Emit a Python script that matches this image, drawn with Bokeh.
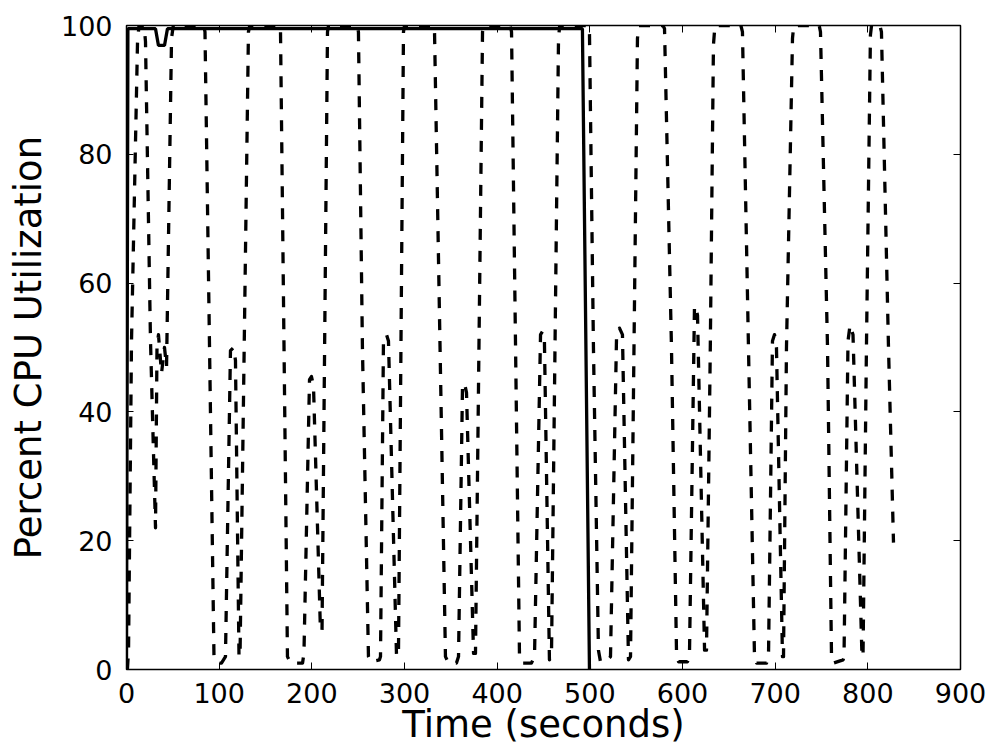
from bokeh.plotting import figure
from bokeh.models import FixedTicker, LinearAxis, Range1d
from bokeh.embed import file_html
from bokeh.resources import INLINE

# ---- data ----
solid_time = [0.0, 1.5, 31.3, 34.5, 41.0, 44.2, 492.0, 499.6]
solid_cpu = [0.0, 99.5, 99.5, 96.9, 96.9, 99.5, 99.5, 0.0]

dashed_time = [
    1.0, 2.2, 5.4, 11.9, 13.5, 19.0, 20.5, 25.9, 31.3, 32.9, 34.5, 37.8, 41.0, 43.2, 48.6, 50.5,
    83.5, 84.7, 94.4, 98.2, 102.5, 106.8, 112.2, 115.5, 117.6, 121.4, 122.5, 131.6, 133.0,
    165.0, 166.2, 173.7, 177.0, 190.0, 191.5, 197.5, 199.6, 201.8, 209.3, 211.0, 216.9, 218.0,
    249.0, 250.3, 254.6, 261.1, 263.3, 273.0, 274.1, 277.3, 280.6, 282.7, 291.4, 293.5, 298.9, 300.0,
    331.0, 332.4, 344.2, 347.5, 356.1, 358.3, 362.6, 364.7, 366.9, 374.5, 376.6, 384.2, 385.5,
    414.0, 415.5, 424.1, 427.3, 437.0, 440.3, 446.8, 448.9, 451.0, 456.4, 458.6, 466.2, 467.5,
    498.0, 499.6, 503.9, 509.3, 511.5, 519.1, 522.3, 528.8, 532.0, 535.2, 541.7, 543.9, 551.4, 553.0,
    579.0, 580.6, 588.1, 593.5, 595.7, 605.4, 607.5, 612.9, 614.0, 616.2, 623.8, 625.9, 630.0, 633.4, 635.0,
    663.0, 664.7, 671.2, 677.7, 679.9, 690.7, 692.8, 697.1, 699.3, 701.4, 707.9, 709.0, 712.2, 718.7, 720.0,
    747.5, 748.9, 756.5, 760.8, 762.9, 773.3, 774.3, 778.6, 780.8, 784.0, 793.7, 794.8, 798.5, 802.8, 804.0,
    813.0, 814.7, 822.3, 827.7,
]
dashed_cpu = [
    0, 3, 51, 97.5, 100, 100, 97.5, 51, 22, 50, 52, 46, 50, 47, 98, 100,
    100, 99, 2, 1, 1, 2, 49.5, 50, 48, 2, 2, 99, 100,
    100, 99, 2, 1, 1, 2.5, 45, 45.5, 44, 6, 6, 99, 100,
    100, 99, 50, 2, 1.2, 1.5, 2, 51, 52, 51, 2, 2.5, 99, 100,
    100, 99, 2, 1, 1, 2, 44, 44.5, 43, 2.5, 2.5, 99, 100,
    100, 99, 2, 1, 1, 2, 52, 52.5, 51, 1.5, 2, 98, 100,
    100, 99, 50, 3, 1.2, 1.5, 2, 51.5, 53, 52, 1.5, 2, 98, 100,
    100, 99.5, 50, 3, 1.2, 1.2, 2, 56, 56.5, 55, 3, 3, 50, 97, 100,
    100, 99, 50, 2, 1, 1, 2, 51, 52, 50, 2, 2, 50, 98, 100,
    100, 99, 50, 2, 1, 1.5, 2, 51, 53.5, 52, 2, 2, 50, 98.5, 100,
    100, 99, 50, 19.7,
]

x_ticks = [0, 100, 200, 300, 400, 500, 600, 700, 800, 900]
y_ticks = [0, 20, 40, 60, 80, 100]
x_label = "Time (seconds)"
y_label = "Percent CPU Utilization"

FONT = "DejaVu Sans"

p = figure(
    width=989, height=749,
    x_range=Range1d(0, 900), y_range=Range1d(0, 100),
    output_backend="svg", toolbar_location=None,
    min_border_left=126, min_border_right=29,
    min_border_top=25, min_border_bottom=80,
)
p.background_fill_color = "white"
p.border_fill_color = "white"
p.outline_line_color = "black"
p.outline_line_width = 1.5
p.outline_line_alpha = 1.0
p.xgrid.grid_line_color = None
p.ygrid.grid_line_color = None

bottom_axis = p.below[0]
left_axis = p.left[0]
bottom_axis.ticker = FixedTicker(ticks=x_ticks)
left_axis.ticker = FixedTicker(ticks=y_ticks)

top_axis = LinearAxis(ticker=FixedTicker(ticks=x_ticks))
right_axis = LinearAxis(ticker=FixedTicker(ticks=y_ticks))
p.add_layout(top_axis, "above")
p.add_layout(right_axis, "right")

for ax in (bottom_axis, left_axis, top_axis, right_axis):
    ax.major_tick_in = 7
    ax.major_tick_out = 0
    ax.minor_tick_line_color = None
    ax.axis_line_color = None
    ax.major_tick_line_color = "black"
    ax.major_tick_line_width = 1
    ax.major_label_text_font = FONT
    ax.major_label_text_font_size = "27px"
    ax.major_label_text_color = "black"

for ax in (top_axis, right_axis):
    ax.major_label_text_font_size = "0px"
    ax.major_label_text_alpha = 0
    ax.major_label_standoff = 0

bottom_axis.major_label_standoff = 13
left_axis.major_label_standoff = 14
for ax, lab, st in ((bottom_axis, x_label, -3), (left_axis, y_label, 8)):
    ax.axis_label = lab
    ax.axis_label_text_font = FONT
    ax.axis_label_text_font_size = "37px"
    ax.axis_label_text_font_style = "normal"
    ax.axis_label_text_color = "black"
    ax.axis_label_standoff = st

p.line(solid_time, solid_cpu, line_color="black", line_width=3.3)
p.line(dashed_time, dashed_cpu, line_color="black", line_width=3.3,
       line_dash="11 11", line_join="round")

open("out.html", "w").write(file_html(p, INLINE))
